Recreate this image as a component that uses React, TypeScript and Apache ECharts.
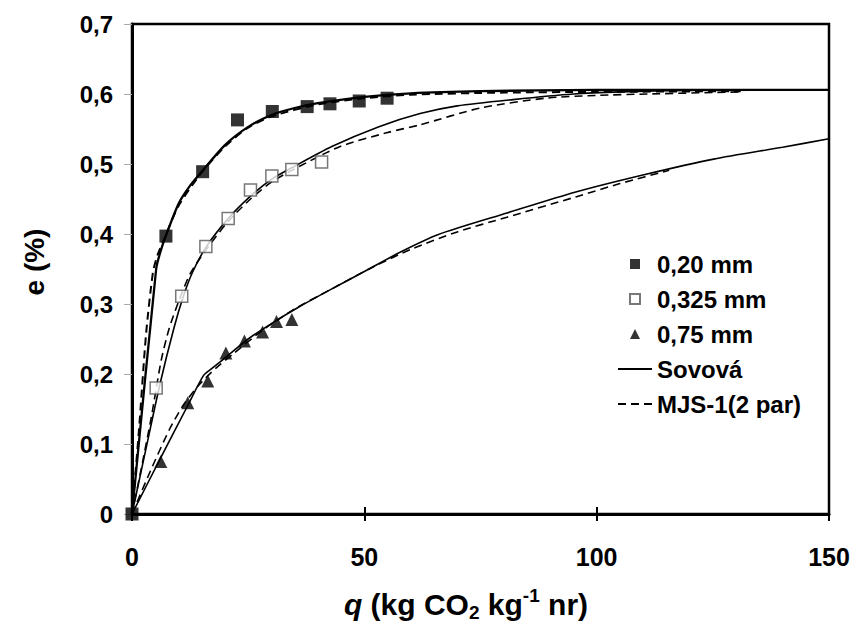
import React, { useEffect, useRef } from "react";
import * as echarts from "echarts";

// Measured points: q (kg CO2 / kg) and e (%)
const q020 = [0, 7.3, 15.2, 22.7, 30.2, 37.7, 42.6, 48.9, 54.9];
const e020 = [0, 0.397, 0.489, 0.563, 0.575, 0.582, 0.586, 0.59, 0.594];
const q0325 = [5.2, 10.7, 15.9, 20.7, 25.5, 30.1, 34.4, 40.8];
const e0325 = [0.18, 0.311, 0.382, 0.422, 0.463, 0.483, 0.492, 0.503];
const q075 = [6.2, 12.0, 16.3, 20.2, 24.2, 28.1, 31.1, 34.4];
const e075 = [0.075, 0.159, 0.19, 0.23, 0.247, 0.26, 0.275, 0.278];

// Model curves: Sovová (solid)
const sov020Q = [0, 5.2, 6, 7.2, 10, 12.5, 15, 20, 25, 30, 35, 40, 50, 60, 75, 100, 150];
const sov020E = [0, 0.35, 0.372, 0.396, 0.443, 0.469, 0.489, 0.527, 0.553, 0.57, 0.58, 0.587, 0.596, 0.601, 0.604, 0.606, 0.606];
const sov0325Q = [0, 3, 6, 9, 11, 13, 16, 20.7, 25.5, 30, 34.5, 43, 53, 62, 70, 82, 95, 105, 120, 150];
const sov0325E = [0, 0.093, 0.185, 0.265, 0.31, 0.345, 0.382, 0.422, 0.454, 0.478, 0.495, 0.525, 0.553, 0.572, 0.583, 0.592, 0.6, 0.603, 0.605, 0.606];
const sov075Q = [0, 6, 12, 15.4, 17, 20.4, 25, 30, 36, 42, 51, 58, 65.8, 80.7, 95.5, 110.4, 125.2, 140, 150];
const sov075E = [0, 0.078, 0.155, 0.198, 0.207, 0.225, 0.25, 0.272, 0.296, 0.318, 0.35, 0.375, 0.399, 0.43, 0.46, 0.485, 0.507, 0.524, 0.536];

// Model curves: MJS-1 with 2 parameters (dashed)
const mjs020Q = [0, 1.5, 3, 4.5, 5.5, 7, 10, 15, 20, 25, 30, 40, 50, 60, 80, 100, 131];
const mjs020E = [0, 0.12, 0.255, 0.345, 0.37, 0.394, 0.44, 0.488, 0.525, 0.552, 0.568, 0.585, 0.594, 0.599, 0.602, 0.603, 0.604];
const mjs0325Q = [0, 2, 4.2, 6.3, 8, 10, 12.5, 16, 20.7, 25.5, 30, 35, 44.8, 55, 62, 75, 89, 100, 111, 131];
const mjs0325E = [0, 0.065, 0.14, 0.22, 0.265, 0.303, 0.343, 0.378, 0.418, 0.45, 0.474, 0.493, 0.525, 0.545, 0.556, 0.58, 0.594, 0.598, 0.6, 0.603];
const mjs075Q = [0, 4, 8, 11, 14.5, 18, 22, 28, 35, 42, 51, 60, 70, 80.7, 95.5, 105, 115.6];
const mjs075E = [0, 0.062, 0.12, 0.155, 0.185, 0.208, 0.23, 0.262, 0.293, 0.318, 0.35, 0.378, 0.403, 0.424, 0.453, 0.472, 0.491];

const legendNames = ["0,20 mm", "0,325 mm", "0,75 mm", "Sovová", "MJS-1(2 par)"];

const xTicks = { min: 0, max: 150, interval: 50 };
const yTicks = { min: 0, max: 0.7, interval: 0.1 };

const FONT = "'Liberation Sans', Arial, sans-serif";

const SQUARE_ICON = "path://M0,0L10,0L10,10L0,10Z";
const TRIANGLE_ICON = "path://M5,0L10,10L0,10Z";

const zip = (xs: number[], ys: number[]) => xs.map((x, i) => [x, ys[i]]);

export default function App() {
  const ref = useRef<HTMLDivElement>(null);

  useEffect(() => {
    document.body.style.margin = "0";
    if (!ref.current) return;
    const chart = echarts.init(ref.current, undefined, { renderer: "svg" });

    const curve = (name: string, q: number[], e: number[], w: number, dash: boolean) => ({
      name,
      type: "line",
      data: zip(q, e),
      symbol: "none",
      smooth: 0.25,
      lineStyle: { color: "#000", width: w, type: dash ? [8, 5] : "solid" },
      itemStyle: { color: "rgba(0,0,0,0)" },
      z: 2,
    });

    const option = {
      animation: false,
      backgroundColor: "#fff",
      grid: {
        left: 132,
        right: 24,
        top: 24,
        bottom: 114,
        show: true,
        borderColor: "#000",
        borderWidth: 2.5,
      },
      xAxis: [
        {
          type: "value",
          ...xTicks,
          position: "bottom",
          axisLine: { show: true, lineStyle: { color: "#000", width: 3 } },
          axisTick: { show: true, length: 7, lineStyle: { color: "#000", width: 2 } },
          splitLine: { show: false },
          axisLabel: {
            color: "#000",
            fontFamily: FONT,
            fontWeight: "bold",
            fontSize: 25,
            margin: 30,
          },
        },
        {
          // inward half of the crossing ticks on the bottom axis
          type: "value",
          ...xTicks,
          position: "top",
          offset: -490,
          axisLine: { show: false },
          axisTick: { show: true, length: 7, lineStyle: { color: "#000", width: 2 } },
          axisLabel: { show: false },
          splitLine: { show: false },
        },
      ],
      yAxis: {
        type: "value",
        ...yTicks,
        axisLine: { show: true, lineStyle: { color: "#000", width: 3 } },
        axisTick: { show: true, length: 8, lineStyle: { color: "#aaa", width: 1 } },
        splitLine: { show: false },
        axisLabel: {
          color: "#000",
          fontFamily: FONT,
          fontWeight: "bold",
          fontSize: 24,
          margin: 19,
          formatter: (v: number) => (v === 0 ? "0" : v.toFixed(1).replace(".", ",")),
        },
      },
      legend: {
        orient: "vertical",
        left: 612,
        top: 247,
        itemWidth: 34,
        itemHeight: 10,
        itemGap: 11,
        symbolKeepAspect: true,
        textStyle: { color: "#000", fontFamily: FONT, fontWeight: "bold", fontSize: 24 },
        data: [
          { name: legendNames[0], icon: SQUARE_ICON },
          { name: legendNames[1], icon: SQUARE_ICON },
          { name: legendNames[2], icon: TRIANGLE_ICON },
          { name: legendNames[3] },
          { name: legendNames[4] },
        ],
      },
      graphic: [
        {
          type: "text",
          x: 34,
          y: 262,
          rotation: Math.PI / 2,
          style: {
            text: "e (%)",
            fill: "#000",
            font: `bold 28px ${FONT}`,
            align: "center",
            verticalAlign: "middle",
          },
        },
        {
          type: "text",
          x: 466,
          y: 604,
          style: {
            text: "{i|q}{t| (kg CO}{sub|2}{t| kg}{sup|-1}{t| nr)}",
            align: "center",
            verticalAlign: "middle",
            rich: {
              i: { font: `italic bold 30px ${FONT}`, fill: "#000", lineHeight: 36 },
              t: { font: `bold 30px ${FONT}`, fill: "#000", lineHeight: 36 },
              sub: { font: `bold 19px ${FONT}`, fill: "#000", verticalAlign: "bottom", lineHeight: 22, padding: [11, 0, 0, 0] },
              sup: { font: `bold 19px ${FONT}`, fill: "#000", verticalAlign: "top", lineHeight: 22, padding: [0, 0, 12, 0] },
            },
          },
        },
      ],
      series: [
        curve(legendNames[3], sov020Q, sov020E, 2.3, false),
        curve(legendNames[3], sov0325Q, sov0325E, 1.6, false),
        curve(legendNames[3], sov075Q, sov075E, 1.6, false),
        curve(legendNames[4], mjs020Q, mjs020E, 2, true),
        curve(legendNames[4], mjs0325Q, mjs0325E, 1.6, true),
        curve(legendNames[4], mjs075Q, mjs075E, 1.6, true),
        {
          name: legendNames[0],
          type: "scatter",
          data: zip(q020, e020),
          symbol: "rect",
          symbolSize: 13,
          itemStyle: { color: "#000" },
          z: 5,
        },
        {
          name: legendNames[1],
          type: "scatter",
          data: zip(q0325, e0325),
          symbol: "rect",
          symbolSize: 12,
          itemStyle: { color: "#fff", borderColor: "#555", borderWidth: 1.5 },
          z: 5,
        },
        {
          name: legendNames[2],
          type: "scatter",
          data: zip(q075, e075),
          symbol: "triangle",
          symbolSize: 13,
          itemStyle: { color: "#000" },
          z: 5,
        },
      ],
    };

    chart.setOption(option as any);
    return () => chart.dispose();
  }, []);

  return <div ref={ref} style={{ width: 853, height: 628 }} />;
}
